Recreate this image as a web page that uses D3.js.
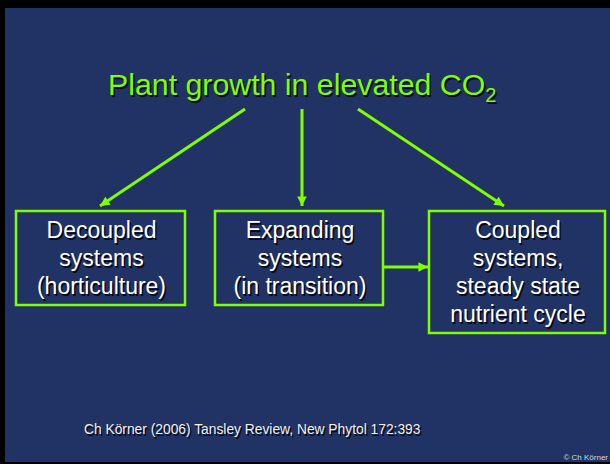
<!DOCTYPE html>
<html>
<head>
<meta charset="utf-8">
<script src="https://cdn.jsdelivr.net/npm/d3@7"></script>
<style>
  html, body { margin: 0; padding: 0; background: #000; }
  svg { display: block; }
  text { font-family: 'Liberation Sans', Arial, sans-serif; }
</style>
</head>
<body>
<script>
'use strict';

const BLUE  = '#213264'
const LIME  = '#80ff00'
const WHITE = '#ffffff'
const SHADOW = 'rgba(0, 0, 0, 0.85)'

// slide content
const titleText = 'Plant growth in elevated CO'
const titleSub  = '2'
const boxIds    = ['decoupled', 'expanding', 'coupled']
const boxLines  = [
  ['Decoupled', 'systems', '(horticulture)'],
  ['Expanding', 'systems', '(in transition)'],
  ['Coupled', 'systems,', 'steady state', 'nutrient cycle']
]
const links     = [
  ['title', 'decoupled'],
  ['title', 'expanding'],
  ['title', 'coupled'],
  ['expanding', 'coupled']
]
const citation  = 'Ch Körner (2006) Tansley Review, New Phytol 172:393'
const copyright = '© Ch Körner'

const W = 610, H = 464

const svg = d3.select('body')
  .append('svg')
  .attr('width', W)
  .attr('height', H)

svg.append('defs')
  .append('marker')
  .attr('id', 'head')
  .attr('viewBox', '0 0 10 10')
  .attr('refX', 10)
  .attr('refY', 5)
  .attr('markerWidth', 3.2)
  .attr('markerHeight', 3.2)
  .attr('orient', 'auto')
  .append('path')
  .attr('d', 'M0,0 L10,5 L0,10 z')
  .attr('fill', LIME)

svg.append('rect')
  .attr('width', W).attr('height', H)
  .attr('fill', '#000')

svg.append('rect')
  .attr('x', 5).attr('y', 8)
  .attr('width', W - 5).attr('height', 454)
  .attr('fill', BLUE)

// box geometry (layout)
const x = d3.scaleOrdinal().domain(boxIds).range([16, 215, 429])
const boxW = d3.scaleOrdinal().domain(boxIds).range([169, 168, 176])
const boxTop = 211
const lineH = 28
const boxH = d => boxLines[boxIds.indexOf(d)].length * lineH + 10

// text with a drop shadow
function shadowText(g, px, py, str, size, fill, anchor) {
  g.append('text')
    .attr('x', px + 1.5).attr('y', py + 1.5)
    .attr('font-size', size)
    .attr('text-anchor', anchor)
    .attr('fill', SHADOW)
    .text(str)
  return g.append('text')
    .attr('x', px).attr('y', py)
    .attr('font-size', size)
    .attr('text-anchor', anchor)
    .attr('fill', fill)
    .text(str)
}

// title
const title = svg.append('g')
;[[1.5, SHADOW], [0, LIME]].forEach(([o, c]) => {
  const t = title.append('text')
    .attr('x', 108 + o).attr('y', 95 + o)
    .attr('font-size', 30.3)
    .attr('fill', c)
  t.append('tspan').text(titleText)
  t.append('tspan')
    .attr('font-size', 20)
    .attr('dy', 7)
    .text(titleSub)
})

// boxes
boxIds.forEach((id, i) => {
  const g = svg.append('g')
  g.append('rect')
    .attr('x', x(id)).attr('y', boxTop)
    .attr('width', boxW(id)).attr('height', boxH(id))
    .attr('fill', BLUE)
    .attr('stroke', LIME)
    .attr('stroke-width', 2.5)
  boxLines[i].forEach((line, j) => {
    shadowText(g, x(id) + boxW(id) / 2 + 1, 238 + j * lineH, line, 23, WHITE, 'middle')
  })
})

// arrows
const titleAnchor = { decoupled: [245, 109], expanding: [302, 109], coupled: [358, 109] }
const endPoint = (from, to) => {
  if (from === 'title') {
    if (to === 'decoupled') return [100, 206]
    if (to === 'expanding') return [302, 206]
    return [504, 206]
  }
  return [x(to) - 1, boxTop + 56]
}
const startPoint = (from, to) => from === 'title'
  ? titleAnchor[to]
  : [x(from) + boxW(from) + 1, boxTop + 56]

svg.append('g')
  .selectAll('line')
  .data(links)
  .join('line')
  .attr('x1', d => startPoint(d[0], d[1])[0])
  .attr('y1', d => startPoint(d[0], d[1])[1])
  .attr('x2', d => endPoint(d[0], d[1])[0])
  .attr('y2', d => endPoint(d[0], d[1])[1])
  .attr('stroke', LIME)
  .attr('stroke-width', 3)
  .attr('marker-end', 'url(#head)')

// footer
shadowText(svg, 84, 434, citation, 13.8, '#f0f0f0', 'start')
svg.append('text')
  .attr('x', 608).attr('y', 460)
  .attr('font-size', 8)
  .attr('text-anchor', 'end')
  .attr('fill', '#d8d8d8')
  .text(copyright)
</script>
</body>
</html>
